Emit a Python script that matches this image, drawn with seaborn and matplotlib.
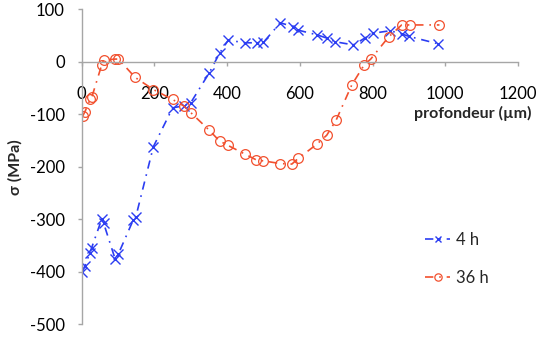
import matplotlib
matplotlib.use("Agg")
import matplotlib.pyplot as plt
import seaborn as sns
import pandas as pd

# Residual stress profiles vs depth
depth_4h = [2, 8, 22, 27, 55, 60, 92, 101, 142, 149, 197, 250, 280, 300, 351, 379,
            403, 449, 481, 500, 546, 582, 596, 648, 674, 697, 747, 779, 800, 848,
            880, 901, 981]
stress_4h = [-400, -390, -365, -355, -300, -307, -376, -366, -301, -295, -162, -88,
             -84, -78, -21, 16, 41, 36, 36, 37, 74, 67, 60, 51, 45, 38, 32, 45, 54,
             59, 53, 48, 34]

depth_36h = [3, 9, 23, 28, 55, 60, 92, 101, 147, 197, 250, 280, 300, 350, 379, 401,
             449, 480, 500, 546, 578, 596, 647, 674, 700, 743, 777, 795, 844, 880,
             903, 984]
stress_36h = [-103, -95, -72, -67, -6, 3, 5, 5, -30, -53, -72, -84, -97, -130, -151,
              -159, -176, -187, -189, -194, -195, -184, -157, -140, -111, -44, -6, 5,
              47, 70, 70, 70]

x_ticks = [0, 200, 400, 600, 800, 1000, 1200]
y_ticks = [-500, -400, -300, -200, -100, 0, 100]

sns.set_theme(style="white")
plt.rcParams["font.family"] = ["Lato", "DejaVu Sans"]
plt.rcParams["axes.unicode_minus"] = False

df4 = pd.DataFrame({"x": depth_4h, "y": stress_4h})
df36 = pd.DataFrame({"x": depth_36h, "y": stress_36h})

blue = "#2b3df2"
red = "#f2502e"
dash = (0, (5, 3.5, 1, 3.5))

fig = plt.figure(figsize=(5.38, 3.51), dpi=100)
ax = fig.add_axes([0.1519, 0.0764, 0.8109, 0.8974])

sns.lineplot(data=df4, x="x", y="y", ax=ax, sort=False, color=blue, lw=1.2,
             linestyle=dash, marker="x", markersize=6.5, markeredgewidth=1.0,
             markeredgecolor=blue, label="4 h")
sns.lineplot(data=df36, x="x", y="y", ax=ax, sort=False, color=red, lw=1.2,
             linestyle=dash, marker="o", markersize=7, markeredgewidth=0.9,
             markeredgecolor=red, markerfacecolor="none", label="36 h")

ax.set_xlim(0, 1200)
ax.set_ylim(-500, 100)
ax.set_xticks(x_ticks)
ax.set_yticks(y_ticks)

for s in ("top", "right"):
    ax.spines[s].set_visible(False)
ax.spines["bottom"].set_position(("data", 0))
for s in ("left", "bottom"):
    ax.spines[s].set_color("#a6a6a6")
    ax.spines[s].set_linewidth(1.0)

ax.tick_params(axis="x", direction="out", length=3.2, width=1.0, color="#a6a6a6",
               pad=14, labelsize=12, labelcolor="black", bottom=True)
ax.tick_params(axis="y", direction="out", length=3.2, width=1.0, color="#a6a6a6",
               pad=9, labelsize=12, labelcolor="black", left=True)

ax.set_xlabel("profondeur (µm)", fontsize=11.5, fontweight="bold", ha="right",
              va="center")
ax.xaxis.set_label_coords(1.032, 0.670)
ax.set_ylabel("σ (MPa)", fontsize=11.5, fontweight="bold", va="center")
ax.yaxis.set_label_coords(-0.153, 0.5)

leg = ax.legend(loc="center left", bbox_to_anchor=(0.768, 0.207), frameon=False,
                fontsize=12, handlelength=1.5, handletextpad=0.35,
                labelspacing=1.3, borderpad=0, markerscale=0.75)

fig.savefig("out.png", dpi=100, facecolor="white")
